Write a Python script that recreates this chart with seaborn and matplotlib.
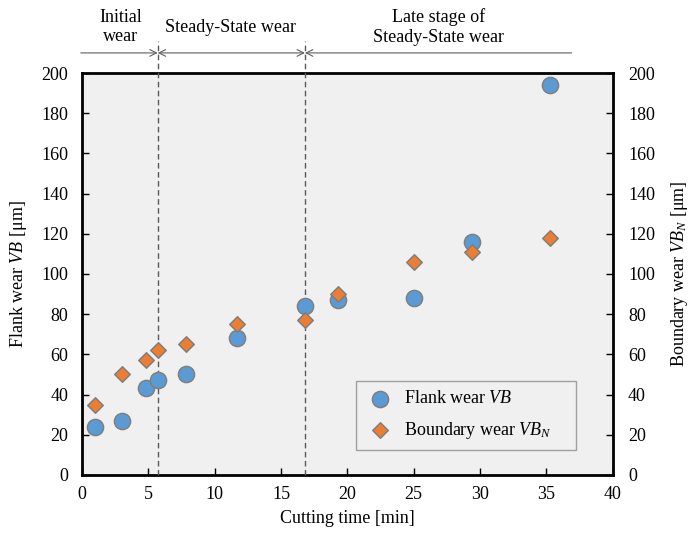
import matplotlib
matplotlib.use("Agg")
import matplotlib.pyplot as plt
import seaborn as sns
import pandas as pd

# Measured tool wear versus cutting time
cutting_time = [1.0, 3.0, 4.8, 5.7, 7.8, 11.7, 16.8, 19.3, 25.0, 29.4, 35.3]
flank_wear = [24, 27, 43, 47, 50, 68, 84, 87, 88, 116, 194]
boundary_wear = [35, 50, 57, 62, 65, 75, 77, 90, 106, 111, 118]

# Wear stage boundaries and labels
stage_bounds = [5.7, 16.8]
stage_labels = ["Initial\nwear", "Steady-State wear", "Late stage of\nSteady-State wear"]
x_ticks = [0, 5, 10, 15, 20, 25, 30, 35, 40]
y_ticks = [0, 20, 40, 60, 80, 100, 120, 140, 160, 180, 200]

FS = 13

sns.set_theme(style="white")
plt.rcParams["font.family"] = ["Liberation Serif", "DejaVu Serif"]
plt.rcParams["mathtext.fontset"] = "custom"
plt.rcParams["mathtext.rm"] = "Liberation Serif"
plt.rcParams["mathtext.it"] = "Liberation Serif:italic"
plt.rcParams["font.size"] = FS
plt.rcParams["text.color"] = "black"
plt.rcParams["axes.labelcolor"] = "black"
plt.rcParams["xtick.color"] = "black"
plt.rcParams["ytick.color"] = "black"

df = pd.DataFrame({"t": cutting_time, "vb": flank_wear, "vbn": boundary_wear})

fig = plt.figure(figsize=(6.9, 5.33), dpi=100)
ax = fig.add_axes([0.119, 0.109, 0.769, 0.754])
ax.set_facecolor("#f0f0f0")

sns.scatterplot(data=df, x="t", y="vb", ax=ax, marker="o", s=135,
                color="#5b9bd5", edgecolor="#7f7f7f", linewidth=1.1,
                label="Flank wear $\\mathit{VB}$", zorder=4)
sns.scatterplot(data=df, x="t", y="vbn", ax=ax, marker="D", s=62,
                color="#ed7d31", edgecolor="#7f7f7f", linewidth=1.1,
                label="Boundary wear $\\mathit{VB}_N$", zorder=5)

ax.set_xlim(0, 40)
ax.set_ylim(0, 200)
ax.set_xticks(x_ticks)
ax.set_yticks(y_ticks)
ax.set_xlabel("Cutting time [min]", fontsize=FS, labelpad=5)
ax.set_ylabel("Flank wear $\\mathit{VB}$ [μm]", fontsize=FS, labelpad=9)
for sp in ax.spines.values():
    sp.set_color("black")
    sp.set_linewidth(2)
ax.tick_params(axis="both", direction="in", length=5, width=1, colors="black",
               labelsize=FS, bottom=True, left=True, top=False, right=False)
ax.tick_params(axis="x", pad=8)
ax.tick_params(axis="y", pad=10)

ax2 = ax.twinx()
ax2.set_ylim(0, 200)
ax2.set_yticks(y_ticks)
ax2.set_ylabel("Boundary wear $\\mathit{VB}_N$ [μm]", fontsize=FS, labelpad=10)
for sp in ax2.spines.values():
    sp.set_visible(False)
ax2.tick_params(axis="y", direction="in", length=5, width=1, colors="black",
                labelsize=FS, pad=11)

# Stage boundaries: dashed lines reaching up into the annotation band
for b in stage_bounds:
    ax.plot([b, b], [0, 216], ls=(0, (4, 2.5)), color="#595959", lw=1.0,
            clip_on=False, zorder=3)

arrow_y = 210
arr = dict(color="#606060", lw=0.8, shrinkA=0, shrinkB=0, mutation_scale=12)
ax.annotate("", xy=(stage_bounds[0], arrow_y), xytext=(-0.1, arrow_y),
            arrowprops=dict(arrowstyle="->", **arr), annotation_clip=False)
ax.annotate("", xy=(stage_bounds[1], arrow_y), xytext=(stage_bounds[0], arrow_y),
            arrowprops=dict(arrowstyle="<->", **arr), annotation_clip=False)
ax.annotate("", xy=(stage_bounds[1], arrow_y), xytext=(36.9, arrow_y),
            arrowprops=dict(arrowstyle="->", **arr), annotation_clip=False)

ax.text(2.9, 223.0, stage_labels[0], ha="center", va="center", fontsize=FS,
        linespacing=1.2, clip_on=False)
ax.text(11.15, 222.5, stage_labels[1], ha="center", va="center", fontsize=FS,
        clip_on=False)
ax.text(26.9, 223.0, stage_labels[2], ha="center", va="center", fontsize=FS,
        linespacing=1.2, clip_on=False)

leg = ax.legend(loc="lower left", bbox_to_anchor=(0.516, 0.062, 0.414, 0.174),
                mode="expand", borderaxespad=0, frameon=True, fancybox=False,
                fontsize=FS, facecolor="#f0f0f0", edgecolor="#8c8c8c",
                labelspacing=0.7, handletextpad=0.5, borderpad=0.5,
                handlelength=1.67)
leg.get_frame().set_linewidth(1.0)

fig.savefig("out.png", dpi=100)
